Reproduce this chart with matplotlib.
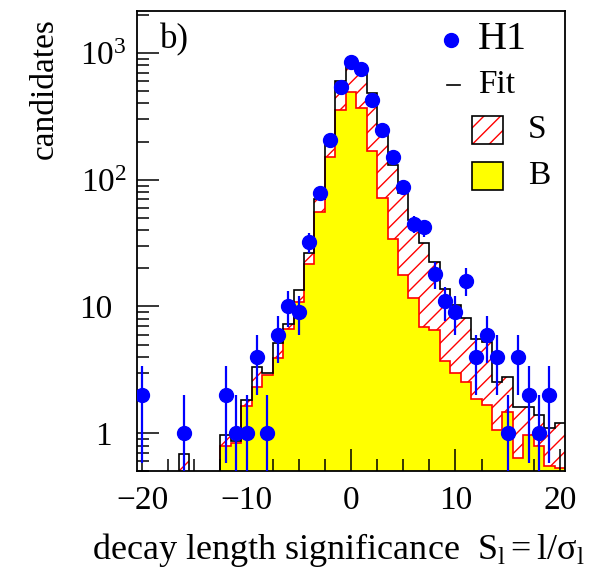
import numpy as np
import matplotlib.pyplot as plt
from matplotlib.patches import Rectangle
from matplotlib.lines import Line2D
from matplotlib.transforms import ScaledTranslation
from matplotlib.ticker import FixedLocator, MultipleLocator, LogLocator, NullFormatter, FuncFormatter

plt.rcParams['font.family'] = 'Liberation Serif'
plt.rcParams['mathtext.fontset'] = 'custom'
plt.rcParams['mathtext.rm'] = 'Liberation Serif'
plt.rcParams['mathtext.it'] = 'Liberation Serif:italic'
plt.rcParams['hatch.linewidth'] = 1.0

# ==================== Data ====================
centers = np.arange(-20, 21)
edges = np.arange(-20.5, 21.0, 1.0)

# H1 data (candidates per bin)
h1 = np.array([2, 0, 0, 0, 1, 0, 0, 0, 2, 1, 1, 4, 1, 6, 10, 9, 32, 78, 204, 538,
               848, 746, 427, 248, 152, 87, 45, 42, 18, 11, 9, 16, 4, 6, 4, 1, 4, 2, 1, 2, 0])

# total fit (S + B)
fit = np.array([0.3, 0.3, 0.3, 0.3, 0.68, 0.3, 0.3, 0.3, 0.97, 0.87, 1.83, 3.35, 3.0, 5.18, 7.3,
                13.4, 26.2, 70, 188, 596, 810, 750, 482, 248, 131, 78, 48, 31.6, 22.4, 13.7,
                10.3, 8.1, 5.5, 5.2, 2.55, 2.8, 1.6, 1.6, 1.39, 1.1, 1.21])

# background component
bkg = np.array([0.1, 0.1, 0.1, 0.1, 0.1, 0.1, 0.1, 0.1, 0.80, 0.84, 1.63, 2.31, 2.87, 3.9, 6.6,
                10.9, 21.8, 55.8, 152, 356, 491, 365, 169, 71.6, 34.2, 17.8, 11.6, 6.94, 6.54, 3.72,
                3.01, 2.55, 1.86, 1.67, 1.06, 1.48, 0.64, 0.97, 0.79, 0.55, 0.53])

ytick_vals = [1, 10, 100, 1000]
ytick_text = ['1', '10', r'$10^{2}$', r'$10^{3}$']

# ==================== Figure ====================
fig = plt.figure(figsize=(5.98, 5.70), dpi=100)
ax = fig.add_axes([0.229, 0.173, 0.716, 0.808])

ax.stairs(bkg, edges, baseline=1e-3, fill=True, color='yellow', lw=0)
ax.stairs(fit, edges, baseline=bkg, fill=True, facecolor='none', edgecolor='red', hatch='//', lw=0)
ax.stairs(bkg, edges, baseline=None, color='red', lw=1.2)
ax.stairs(fit, edges, baseline=None, color='black', lw=1.2)

m = h1 > 0
err = np.sqrt(h1[m])
lo = np.minimum(err, h1[m] - 1e-4)
ax.errorbar(centers[m], h1[m], yerr=[lo, err], fmt='o', color='blue', ms=10,
            elinewidth=1.6, capsize=0, zorder=5)

ax.set_yscale('log')
ax.set_xlim(-20.5, 20.5)
ax.set_ylim(0.5, 2150)

ax.xaxis.set_major_locator(FixedLocator([-20, -10, 0, 10, 20]))
ax.xaxis.set_minor_locator(MultipleLocator(2.5))
ax.set_xticklabels(['\u221220', '\u221210', '0', '10', '20'])
ax.yaxis.set_major_locator(FixedLocator(ytick_vals))
ax.yaxis.set_major_formatter(FuncFormatter(lambda v, p: ytick_text[ytick_vals.index(v)] if v in ytick_vals else ''))
ax.yaxis.set_minor_locator(LogLocator(base=10, subs=np.arange(2, 10)))
ax.yaxis.set_minor_formatter(NullFormatter())

ax.tick_params(which='both', direction='in', top=False, right=False, width=1.1, labelsize=24)
ax.tick_params(which='major', length=16)
ax.tick_params(which='minor', length=8.5)
ax.tick_params(axis='x', pad=10)
ax.tick_params(axis='y', pad=18)
for s in ax.spines.values():
    s.set_linewidth(1.3)

ax.set_xlabel(r'decay length significance  $\mathrm{S_l = l/σ_l}$', fontsize=26, loc='right')
ax.xaxis.set_label_coords(1.046, -0.171)
ax.xaxis.label.set_va('center')
ax.set_ylabel('candidates', fontsize=24, loc='top')
ax.yaxis.set_label_coords(-0.215, 0.985)
ax.yaxis.label.set_va('center')

ax.text(0.054, 0.937, 'b)', transform=ax.transAxes, fontsize=25, ha='left', va='center')

# ==================== Legend ====================
ax.add_line(Line2D([0.733], [0.937], marker='o', color='blue', ms=10, transform=ax.transAxes))
ax.text(0.796, 0.937, 'H1', transform=ax.transAxes, fontsize=29, ha='left', va='center')
ax.add_line(Line2D([0.724, 0.754], [0.839, 0.839], color='black', lw=1.2, transform=ax.transAxes))
ax.text(0.796, 0.839, 'Fit', transform=ax.transAxes, fontsize=24, ha='left', va='center')
ax.add_patch(Rectangle((0.782, 0.711), 0.073, 0.061, transform=ax.transAxes,
                       facecolor='white', edgecolor='red', hatch='//', lw=0))
ax.add_patch(Rectangle((0.782, 0.711), 0.073, 0.061, transform=ax.transAxes,
                       fill=False, edgecolor='black', lw=1.2))
ax.text(0.913, 0.741, 'S', transform=ax.transAxes, fontsize=24, ha='left', va='center')
ax.add_patch(Rectangle((0.782, 0.611), 0.073, 0.061, transform=ax.transAxes,
                       facecolor='yellow', edgecolor='black', lw=1.2))
ax.text(0.913, 0.642, 'B', transform=ax.transAxes, fontsize=24, ha='left', va='center')

# power labels: let the exponent stick out to the right, like ROOT does
fig.canvas.draw()
for tick in ax.yaxis.get_major_ticks():
    if '^' in tick.label1.get_text():
        tick.label1.set_transform(tick.label1.get_transform() + ScaledTranslation(0.15, 0, fig.dpi_scale_trans))

fig.savefig('out.png', dpi=100)
